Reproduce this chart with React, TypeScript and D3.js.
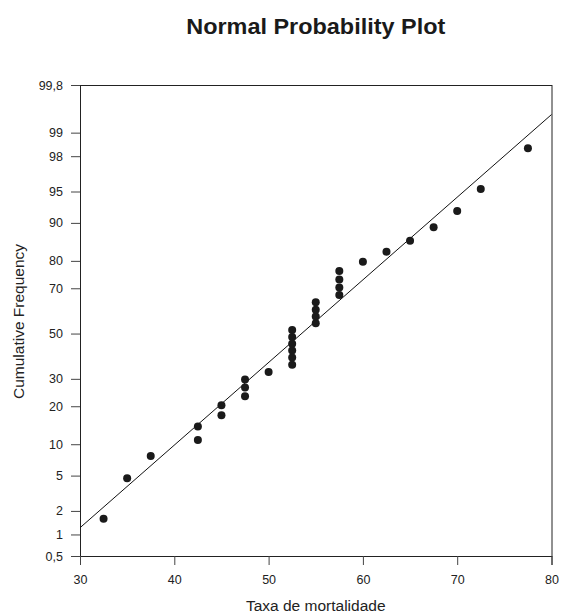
import React, { useEffect, useRef } from 'react'
import * as d3 from 'd3'

// sorted sample values (x) and their cumulative frequency in % (y)
const mortalityRate = [
  32.5, 35, 37.5, 42.5, 42.5, 45, 45, 47.5, 47.5, 47.5, 50,
  52.5, 52.5, 52.5, 52.5, 52.5, 52.5, 55, 55, 55, 55,
  57.5, 57.5, 57.5, 57.5, 60, 62.5, 65, 67.5, 70, 72.5, 77.5,
]
const cumulativeFreq = [
  1.6, 4.7, 7.8, 10.9, 14.1, 17.2, 20.3, 23.4, 26.6, 29.7, 32.8,
  35.9, 39.1, 42.2, 45.3, 48.4, 51.6, 54.7, 57.8, 60.9, 64.1,
  67.2, 70.3, 73.4, 76.6, 79.7, 82.8, 85.9, 89.1, 92.2, 95.3, 98.4,
]
const yTicks = [0.5, 1, 2, 5, 10, 20, 30, 50, 70, 80, 90, 95, 98, 99, 99.8]
const xTicks = [30, 40, 50, 60, 70, 80]

// reference normal line (mean, sd)
const fitMean = 53.5
const fitSd = 10.45

const W = 561
const H = 615
const left = 80
const right = 551.5
const top = 85
const bottom = 556
const font = '"Liberation Sans", Arial, Helvetica, sans-serif'

// inverse of the standard normal cdf (Acklam)
function probit(p: number): number {
  const a = [-39.69683028665376, 220.9460984245205, -275.9285104469687, 138.357751867269, -30.66479806614716, 2.506628277459239]
  const b = [-54.47609879822406, 161.5858368580409, -155.6989798598866, 66.80131188771972, -13.28068155288572]
  const c = [-0.007784894002430293, -0.3223964580411365, -2.400758277161838, -2.549732539343734, 4.374664141464968, 2.938163982698783]
  const d = [0.007784695709041462, 0.3224671290700398, 2.445134137142996, 3.754408661907416]
  const pl = 0.02425
  if (p < pl) {
    const q = Math.sqrt(-2 * Math.log(p))
    return (((((c[0] * q + c[1]) * q + c[2]) * q + c[3]) * q + c[4]) * q + c[5]) / ((((d[0] * q + d[1]) * q + d[2]) * q + d[3]) * q + 1)
  }
  if (p > 1 - pl) {
    const q = Math.sqrt(-2 * Math.log(1 - p))
    return -(((((c[0] * q + c[1]) * q + c[2]) * q + c[3]) * q + c[4]) * q + c[5]) / ((((d[0] * q + d[1]) * q + d[2]) * q + d[3]) * q + 1)
  }
  const q = p - 0.5
  const r = q * q
  return (((((a[0] * r + a[1]) * r + a[2]) * r + a[3]) * r + a[4]) * r + a[5]) * q / (((((b[0] * r + b[1]) * r + b[2]) * r + b[3]) * r + b[4]) * r + 1)
}

export default function App() {
  const ref = useRef<SVGSVGElement>(null)

  useEffect(() => {
    document.body.style.margin = '0'
    const svg = d3.select(ref.current)
    svg.selectAll('*').remove()

    const x = d3.scaleLinear().domain([30, 80]).range([left, right])
    const yz = d3.scaleLinear().domain([probit(0.005), probit(0.998)]).range([bottom, top])
    const y = (pct: number) => yz(probit(pct / 100))

    const fmt = d3.formatLocale({ decimal: ',', thousands: '.', grouping: [3], currency: ['', ''] }).format('~g')

    // frame
    svg.append('rect')
      .attr('x', left + 0.5).attr('y', top + 0.5)
      .attr('width', right - left).attr('height', bottom - top)
      .attr('fill', 'none').attr('stroke', '#222').attr('stroke-width', 1)

    const yAxis = svg.append('g')
      .attr('transform', `translate(${left},0)`)
      .call(d3.axisLeft(yz)
        .tickValues(yTicks.map(t => probit(t / 100)))
        .tickFormat((_, i) => fmt(yTicks[i]))
        .tickSize(9).tickPadding(8))
    const xAxis = svg.append('g')
      .attr('transform', `translate(0,${bottom})`)
      .call(d3.axisBottom(x).tickValues(xTicks).tickFormat(d3.format('d')).tickSize(9).tickPadding(10))

    for (const g of [yAxis, xAxis]) {
      g.selectAll('.domain').attr('stroke', '#222')
      g.selectAll('.tick line').attr('stroke', '#444')
      g.selectAll('.tick text')
        .attr('fill', '#222')
        .style('font-family', font)
        .style('font-size', '12.5px')
    }

    // fitted normal line
    svg.append('line')
      .attr('x1', x(30)).attr('y1', yz((30 - fitMean) / fitSd))
      .attr('x2', x(80)).attr('y2', yz((80 - fitMean) / fitSd))
      .attr('stroke', '#111').attr('stroke-width', 1)

    svg.append('g')
      .selectAll('circle')
      .data(mortalityRate)
      .join('circle')
      .attr('cx', d => x(d))
      .attr('cy', (_, i) => y(cumulativeFreq[i]))
      .attr('r', 4)
      .attr('fill', '#1a1a1a')

    svg.append('text')
      .attr('x', (left + right) / 2).attr('y', 33.5)
      .attr('text-anchor', 'middle')
      .attr('textLength', 259).attr('lengthAdjust', 'spacingAndGlyphs')
      .style('font-family', font).style('font-size', '21.5px').style('font-weight', 'bold')
      .attr('fill', '#1a1a1a')
      .text('Normal Probability Plot')

    svg.append('text')
      .attr('x', (left + right) / 2).attr('y', 611)
      .attr('text-anchor', 'middle')
      .style('font-family', font).style('font-size', '15.5px')
      .attr('fill', '#222')
      .text('Taxa de mortalidade')

    svg.append('text')
      .attr('transform', `translate(24,${(top + bottom) / 2 + 1}) rotate(-90)`)
      .attr('text-anchor', 'middle')
      .style('font-family', font).style('font-size', '15.5px')
      .attr('fill', '#222')
      .text('Cumulative Frequency')
  }, [])

  return <svg ref={ref} width={W} height={H} style={{ display: 'block', background: '#fff' }} />
}
